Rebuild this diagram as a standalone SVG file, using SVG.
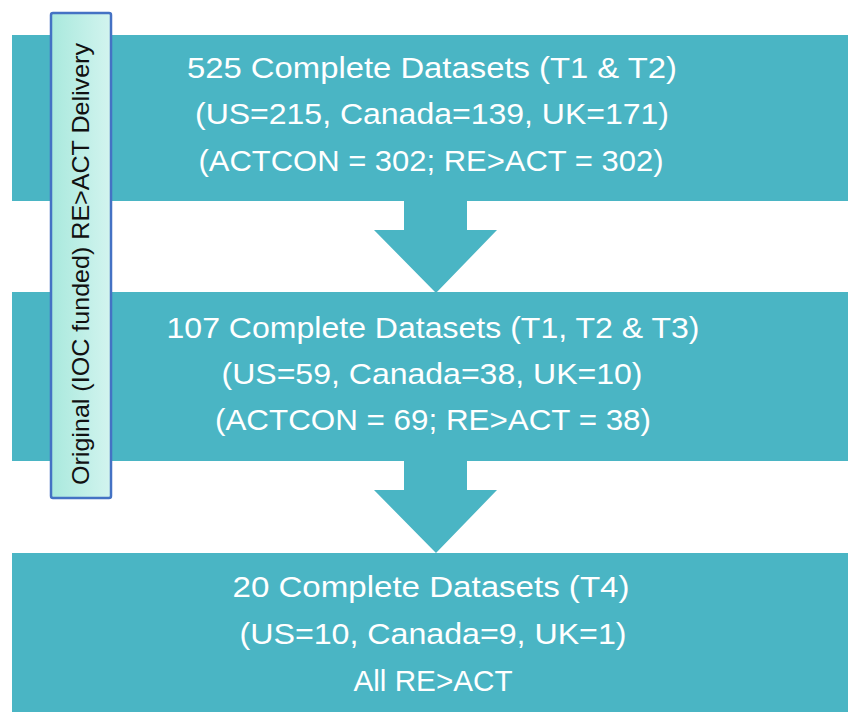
<svg xmlns="http://www.w3.org/2000/svg" width="848" height="712" viewBox="0 0 848 712">
<defs>
<linearGradient id="lblGrad" x1="0" y1="0" x2="1" y2="0">
<stop offset="0" stop-color="#A9E9DD"/>
<stop offset="1" stop-color="#D3F4EF"/>
</linearGradient>
<style>
.box{fill:#4AB5C4;}
.arrow{fill:#4AB5C4;}
.t{font-family:"Liberation Sans",Arial,sans-serif;font-size:30px;fill:#FFFFFF;text-anchor:middle;}
.lbl{fill:url(#lblGrad);stroke:#4472C4;stroke-width:2.5;}
.lt{font-family:"Liberation Sans",Arial,sans-serif;font-size:24px;fill:#111111;text-anchor:middle;}
</style>
</defs>
<rect width="848" height="712" fill="#FFFFFF"/>
<g id="connectors">
<polygon class="arrow" points="404,195 467,195 467,230 497,230 436,293 374,230 404,230"/>
<polygon class="arrow" points="404,455 467,455 467,490 497,490 436,553 374,490 404,490"/>
</g>
<g id="box1">
<rect class="box" x="12" y="35" width="836" height="166"/>
<text class="t" x="432" y="78" textLength="490" lengthAdjust="spacingAndGlyphs">525 Complete Datasets (T1 &amp; T2)</text>
<text class="t" x="432" y="124" textLength="474" lengthAdjust="spacingAndGlyphs">(US=215, Canada=139, UK=171)</text>
<text class="t" x="431" y="171" textLength="465" lengthAdjust="spacingAndGlyphs">(ACTCON = 302; RE&gt;ACT = 302)</text>
</g>
<g id="box2">
<rect class="box" x="12" y="292" width="836" height="169"/>
<text class="t" x="433" y="338" textLength="533" lengthAdjust="spacingAndGlyphs">107 Complete Datasets (T1, T2 &amp; T3)</text>
<text class="t" x="432" y="384" textLength="421" lengthAdjust="spacingAndGlyphs">(US=59, Canada=38, UK=10)</text>
<text class="t" x="433" y="430" textLength="436" lengthAdjust="spacingAndGlyphs">(ACTCON = 69; RE&gt;ACT = 38)</text>
</g>
<g id="box3">
<rect class="box" x="12" y="553" width="836" height="159"/>
<text class="t" x="431" y="597" textLength="397" lengthAdjust="spacingAndGlyphs">20 Complete Datasets (T4)</text>
<text class="t" x="433" y="644" textLength="387" lengthAdjust="spacingAndGlyphs">(US=10, Canada=9, UK=1)</text>
<text class="t" x="433" y="691" textLength="159" lengthAdjust="spacingAndGlyphs">All RE&gt;ACT</text>
</g>
<g id="label">
<rect class="lbl" x="51" y="13" width="60" height="485" rx="2"/>
<text class="lt" transform="translate(89,264) rotate(-90)" x="0" y="0" textLength="442" lengthAdjust="spacingAndGlyphs">Original (IOC funded) RE&gt;ACT Delivery</text>
</g>
</svg>
